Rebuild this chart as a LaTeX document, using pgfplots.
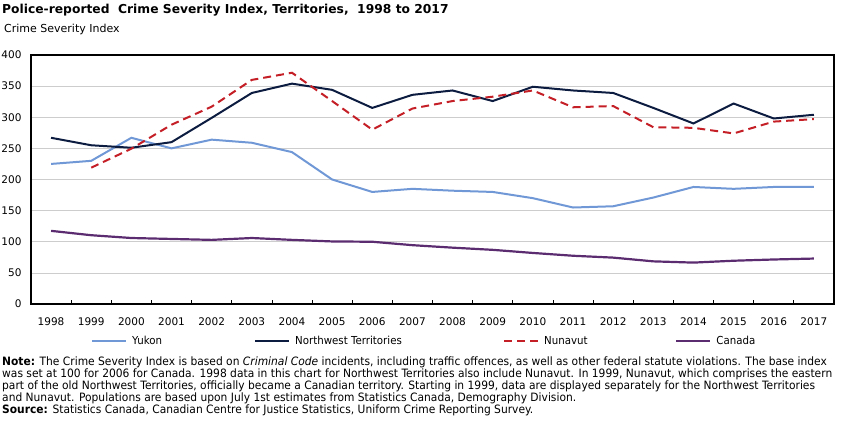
\documentclass[border=0pt]{standalone}
\usepackage{fontspec}
\setmainfont{DejaVu Sans}
\newfontfamily\notefont{DejaVu Sans}[FakeStretch=0.93]
\usepackage{pgfplots}
\pgfplotsset{compat=1.18}
\usepackage{pgfplotstable}

\definecolor{yukon}{RGB}{112,152,214}
\definecolor{nwt}{RGB}{12,28,64}
\definecolor{nun}{RGB}{196,30,38}
\definecolor{can}{RGB}{92,44,112}
\definecolor{gridc}{RGB}{205,205,205}

\pgfplotstableread{
year yukon nwt canada
1998 225 267 117.5
1999 230 255 110.5
2000 267 251 106
2001 250 260 104.5
2002 264 299 103
2003 259 339 106
2004 244 354 103
2005 200 344 100.5
2006 180 315 100
2007 185 336 94.5
2008 182 343 90.5
2009 180 326 87
2010 170 349 82
2011 155 343 77.5
2012 157 339 74.5
2013 171 315 68.5
2014 188 290 66.5
2015 185 322 69.5
2016 188 298 71.5
2017 188 304 73
}\maindata

\pgfplotstableread{
year nunavut
1999 219
2000 249.5
2001 288
2002 317
2003 360
2004 371.5
2005 326
2006 280
2007 314
2008 326
2009 333
2010 343
2011 316
2012 318
2013 284
2014 283
2015 274
2016 293
2017 297
}\nundata

\begin{document}
\begin{tikzpicture}
\path[use as bounding box] (0,0) rectangle (843pt,425pt);
\begin{axis}[
  at={(31pt,121pt)}, anchor=south west,
  scale only axis, width=803pt, height=249pt,
  xmin=1997.5, xmax=2017.5, ymin=0, ymax=400,
  xtick={1998,...,2017}, ytick={0,50,...,400},
  minor xtick={1998.5,1999.5,...,2016.5},
  xtick pos=lower, ytick pos=left,
  major tick length=0pt, minor tick length=4pt, tick align=inside,
  minor tick style={black, line width=0.6pt},
  ymajorgrids, grid style={gridc, line width=0.6pt},
  axis line style={black, line width=1.1pt},
  /pgf/number format/assume math mode=true,
  x tick label style={/pgf/number format/1000 sep={}, anchor=base, yshift=-22pt, font=\fontsize{10.5}{12}\selectfont},
  y tick label style={anchor=east, xshift=-6pt, font=\fontsize{10.5}{12}\selectfont},
  legend columns=4,
  legend cell align=left,
  legend style={at={(0.0747,-0.1486)}, anchor=west, draw=none, fill=none, inner sep=0pt,
    font=\notefont\fontsize{11}{13}\selectfont,
    /tikz/every odd column/.append style={column sep=5pt},
    /tikz/every even column/.append style={column sep=0pt},
    nodes={inner sep=0pt}},
  legend image code/.code={\draw[#1] (0pt,0pt) -- (34pt,0pt);},
]
\addplot[yukon, line width=2pt] table[x=year, y=yukon] {\maindata};
\addlegendentry{\makebox[122pt][l]{Yukon}}
\addplot[nwt, line width=2pt] table[x=year, y=nwt] {\maindata};
\addlegendentry{\makebox[208pt][l]{Northwest Territories}}
\addplot[nun, line width=2pt, dash pattern=on 8pt off 5pt] table[x=year, y=nunavut] {\nundata};
\addlegendentry{\makebox[131pt][l]{Nunavut}}
\addplot[can, line width=2.2pt] table[x=year, y=canada] {\maindata};
\addlegendentry{Canada}
\end{axis}
\node[anchor=base west, inner sep=0pt, font=\bfseries\fontsize{12.3}{14}\selectfont] at (2pt,411pt) {Police-reported\ \ Crime Severity Index, Territories,\ \ 1998 to 2017};
\node[anchor=base west, inner sep=0pt, font=\fontsize{11}{13}\selectfont] at (4pt,392pt) {Crime Severity Index};
\begin{scope}[every node/.style={anchor=base west, inner sep=0pt, font=\notefont\fontsize{11.5}{13}\selectfont}]
\node at (2pt,59pt) {\textbf{Note:} The Crime Severity Index is based on \textit{Criminal Code} incidents, including traffic offences, as well as other federal statute violations. The base index};
\node at (2pt,47pt) {was set at 100 for 2006 for Canada. 1998 data in this chart for Northwest Territories also include Nunavut. In 1999, Nunavut, which comprises the eastern};
\node at (2pt,35pt) {part of the old Northwest Territories, officially became a Canadian territory. Starting in 1999, data are displayed separately for the Northwest Territories};
\node at (2pt,23pt) {and Nunavut. Populations are based upon July 1st estimates from Statistics Canada, Demography Division.};
\node at (2pt,11pt) {\textbf{Source:} Statistics Canada, Canadian Centre for Justice Statistics, Uniform Crime Reporting Survey.};
\end{scope}
\end{tikzpicture}
\end{document}
